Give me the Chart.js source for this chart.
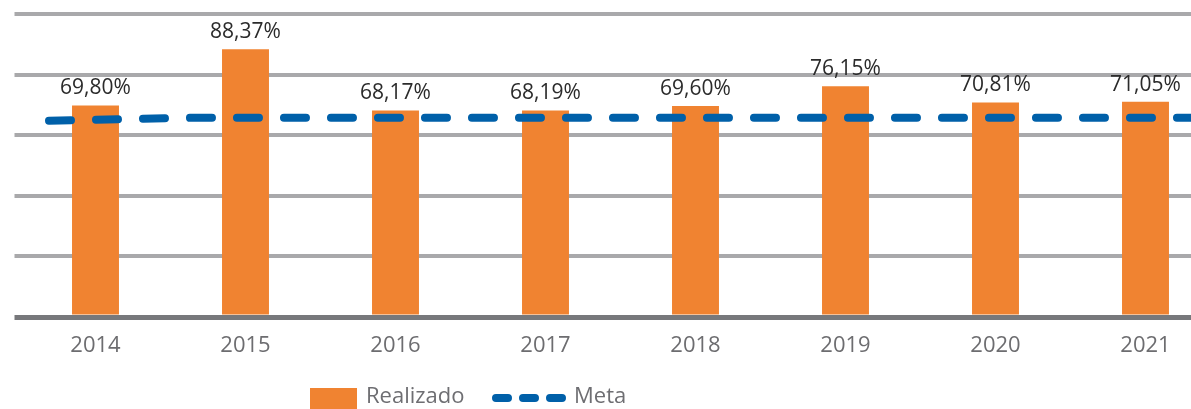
<!DOCTYPE html>
<html>
<head>
<meta charset="utf-8">
<script src="https://cdn.jsdelivr.net/npm/chart.js@4"></script>
<style>
  html, body { margin: 0; padding: 0; background: #fff; overflow: hidden; }
  #wrap { position: relative; width: 1240px; height: 409px; }
</style>
</head>
<body>
<div id="wrap"><canvas id="metaChart"></canvas></div>
<script>
// Data
const years = ['2014', '2015', '2016', '2017', '2018', '2019', '2020', '2021'];
const realizado = [69.80, 88.37, 68.17, 68.19, 69.60, 76.15, 70.81, 71.05];
const meta = [64.8, 65.8, 65.8, 65.8, 65.8, 65.8, 65.8, 65.8];
const yTicks = [0, 20, 40, 60, 80, 100];

const ORANGE = '#f08331';
const BLUE = '#0060a9';
const GRID = '#a9a9ab';
const AXIS = '#77787b';
const FONT = "'Open Sans', 'Noto Sans', sans-serif";

// meta line is drawn a bit left of the category centres and runs to the right edge
const metaShift = -0.31;
const metaPoints = meta.map((v, i) => ({ x: i + metaShift, y: v }));
metaPoints.push({ x: years.length - 0.5, y: meta[meta.length - 1] });

function fmt(v) {
    return v.toFixed(2).replace('.', ',') + '%';
}

// value labels above the bars
const barLabels = {
    id: 'barLabels',
    afterDatasetsDraw(chart) {
        const ctx = chart.ctx;
        const bars = chart.getDatasetMeta(1);
        ctx.save();
        ctx.font = '21px ' + FONT;
        ctx.fillStyle = '#2b2b2b';
        ctx.textAlign = 'center';
        ctx.textBaseline = 'middle';
        bars.data.forEach((bar, i) => {
            ctx.fillText(fmt(realizado[i]), bar.x, bar.y - 17);
        });
        ctx.restore();
    }
};

// legend at the bottom, left of centre
const bottomLegend = {
    id: 'bottomLegend',
    afterDraw(chart) {
        const ctx = chart.ctx;
        ctx.save();
        ctx.fillStyle = ORANGE;
        ctx.fillRect(310, 388, 47, 23);
        ctx.font = '22px ' + FONT;
        ctx.fillStyle = '#6e6e72';
        ctx.textBaseline = 'middle';
        ctx.fillText('Realizado', 366, 397);

        ctx.strokeStyle = BLUE;
        ctx.lineWidth = 8;
        ctx.lineCap = 'round';
        ctx.setLineDash([12, 15]);
        ctx.beginPath();
        ctx.moveTo(496, 398);
        ctx.lineTo(562, 398);
        ctx.stroke();
        ctx.setLineDash([]);
        ctx.fillText('Meta', 574, 397);
        ctx.restore();
    }
};

const ctx = document.getElementById('metaChart');
new Chart(ctx, {
    type: 'bar',
    data: {
        labels: years,
        datasets: [
            {
                type: 'line',
                label: 'Meta',
                data: metaPoints,
                xAxisID: 'x2',
                borderColor: BLUE,
                borderWidth: 8,
                borderDash: [22, 25],
                borderCapStyle: 'round',
                pointRadius: 0,
                tension: 0,
                fill: false,
                order: 0
            },
            {
                type: 'bar',
                label: 'Realizado',
                data: realizado,
                xAxisID: 'x',
                backgroundColor: ORANGE,
                grouped: false,
                categoryPercentage: 1,
                barPercentage: 0.313,
                order: 1
            }
        ]
    },
    options: {
        responsive: true,
        maintainAspectRatio: false,
        animation: false,
        layout: { padding: { top: 14, left: 14.5, right: 19.5, bottom: 51 } },
        plugins: {
            legend: { display: false },
            tooltip: { enabled: false }
        },
        scales: {
            x: {
                type: 'category',
                offset: true,
                grid: { display: false, drawTicks: false },
                border: { display: false },
                ticks: {
                    color: '#6d6d70',
                    font: { size: 22, family: FONT },
                    padding: 16,
                    maxRotation: 0
                },
                afterFit(axis) {
                    axis.height = 41;
                }
            },
            x2: {
                type: 'linear',
                display: false,
                offset: false,
                grid: { offset: false },
                min: -0.5,
                max: years.length - 0.5
            },
            y: {
                min: yTicks[0],
                max: yTicks[yTicks.length - 1],
                afterBuildTicks(axis) {
                    axis.ticks = yTicks.map(v => ({ value: v }));
                },
                border: { display: false },
                ticks: { display: false },
                grid: {
                    drawTicks: true,
                    tickLength: 6,
                    color: c => (c.tick && c.tick.value === 0 ? AXIS : GRID),
                    lineWidth: c => (c.tick && c.tick.value === 0 ? 5 : 4)
                }
            }
        }
    },
    plugins: [barLabels, bottomLegend]
});
</script>
</body>
</html>
